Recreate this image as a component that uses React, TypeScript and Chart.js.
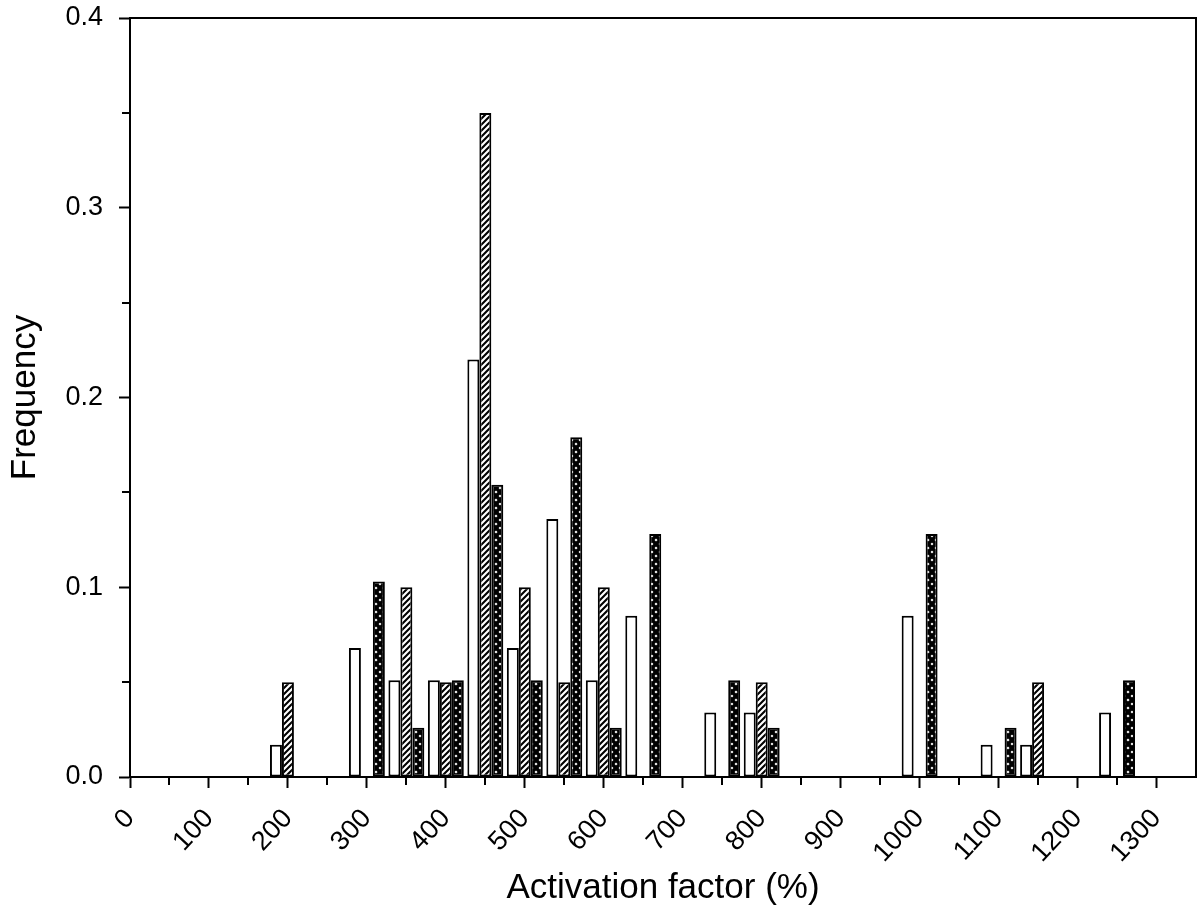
import { useEffect, useRef } from 'react';
import { Chart, registerables } from 'chart.js';

Chart.register(...registerables);

// Bin centres of the activation-factor histogram (%)
const bins = [200, 300, 350, 400, 450, 500, 550, 600, 650, 750, 800, 1000, 1100, 1150, 1250];

// Relative frequencies per bin (null = empty bin)
const seriesOpen = [0.017, 0.068, 0.051, 0.051, 0.220, 0.068, 0.136, 0.051, 0.085, 0.034, 0.034, 0.085, 0.017, 0.017, 0.034];
const seriesHatched = [0.05, null, 0.1, 0.05, 0.35, 0.1, 0.05, 0.1, null, null, 0.05, null, null, 0.05, null];
const seriesCross = [null, 0.103, 0.026, 0.051, 0.154, 0.051, 0.179, 0.026, 0.128, 0.051, 0.026, 0.128, 0.026, null, 0.051];

// Axis ticks
const xMajorTicks = [0, 100, 200, 300, 400, 500, 600, 700, 800, 900, 1000, 1100, 1200, 1300];
const xMinorTicks = [50, 150, 250, 350, 450, 550, 650, 750, 850, 950, 1050, 1150, 1250];
const yMajorTicks = [0, 0.1, 0.2, 0.3, 0.4];
const yMinorTicks = [0.05, 0.15, 0.25, 0.35];

const FONT = "'Liberation Sans', Arial, Helvetica, sans-serif";

function toPoints(values: (number | null)[]) {
  const pts: { x: number; y: number }[] = [];
  values.forEach((v, i) => {
    if (v !== null) pts.push({ x: bins[i], y: v });
  });
  return pts;
}

// White fill with "/" stripes
function diagonalPattern(ctx: CanvasRenderingContext2D) {
  const s = 6;
  const c = document.createElement('canvas');
  c.width = s;
  c.height = s;
  const g = c.getContext('2d')!;
  g.fillStyle = '#fff';
  g.fillRect(0, 0, s, s);
  g.strokeStyle = '#000';
  g.lineWidth = 2.1;
  g.beginPath();
  g.moveTo(-1, s + 1);
  g.lineTo(s + 1, -1);
  g.moveTo(-2, 2);
  g.lineTo(2, -2);
  g.moveTo(s - 2, s + 2);
  g.lineTo(s + 2, s - 2);
  g.stroke();
  return ctx.createPattern(c, 'repeat')!;
}

// Dense cross-hatch: black with small white diamonds
function crossPattern(ctx: CanvasRenderingContext2D) {
  const s = 8;
  const c = document.createElement('canvas');
  c.width = s;
  c.height = s;
  const g = c.getContext('2d')!;
  g.fillStyle = '#fff';
  g.fillRect(0, 0, s, s);
  g.strokeStyle = '#000';
  g.lineWidth = 3.6;
  g.beginPath();
  g.moveTo(-2, -2);
  g.lineTo(s + 2, s + 2);
  g.moveTo(-2, s + 2);
  g.lineTo(s + 2, -2);
  g.stroke();
  return ctx.createPattern(c, 'repeat')!;
}

// Box around the plot plus the short minor tick marks
const frameAndMinorTicks = {
  id: 'frameAndMinorTicks',
  afterDraw(chart: any) {
    const { ctx, chartArea, scales } = chart;
    const { left, top, right, bottom } = chartArea;
    ctx.save();
    ctx.strokeStyle = '#000';
    ctx.lineWidth = 2;
    ctx.strokeRect(left, top, right - left, bottom - top);
    ctx.beginPath();
    for (const v of xMinorTicks) {
      const px = Math.round(scales.x.getPixelForValue(v));
      ctx.moveTo(px, bottom);
      ctx.lineTo(px, bottom + 8);
    }
    for (const v of yMinorTicks) {
      const py = Math.round(scales.y.getPixelForValue(v));
      ctx.moveTo(left, py);
      ctx.lineTo(left - 8, py);
    }
    ctx.stroke();
    ctx.restore();
  },
};

export default function App() {
  const canvasRef = useRef<HTMLCanvasElement | null>(null);

  useEffect(() => {
    const canvas = canvasRef.current;
    if (!canvas) return;
    const ctx = canvas.getContext('2d')!;

    const common = {
      borderColor: '#000',
      borderWidth: 2,
      borderSkipped: false as const,
      categoryPercentage: 0.91,
      barPercentage: 1.0,
    };

    const chart = new Chart(ctx, {
      type: 'bar',
      data: {
        datasets: [
          { label: 'open', data: toPoints(seriesOpen), backgroundColor: '#fff', ...common },
          { label: 'hatched', data: toPoints(seriesHatched), backgroundColor: diagonalPattern(ctx), ...common },
          { label: 'cross', data: toPoints(seriesCross), backgroundColor: crossPattern(ctx), ...common },
        ],
      },
      options: {
        responsive: false,
        animation: false,
        events: [],
        layout: { padding: { top: 18, right: 2, left: 0, bottom: 0 } },
        plugins: {
          legend: { display: false },
          tooltip: { enabled: false },
        },
        scales: {
          x: {
            type: 'linear',
            offset: false,
            min: 0,
            max: 1350,
            afterBuildTicks: (scale: any) => {
              scale.ticks = xMajorTicks.map((v) => ({ value: v }));
            },
            afterFit: (scale: any) => {
              scale.height = 137;
              scale.paddingLeft = 0;
              scale.paddingRight = 0;
            },
            ticks: {
              includeBounds: false,
              minRotation: 47,
              maxRotation: 47,
              autoSkip: false,
              padding: 15,
              color: '#000',
              font: { family: FONT, size: 27 },
              callback: (v: any) => String(v),
            },
            grid: {
              display: true,
              drawOnChartArea: false,
              drawTicks: true,
              tickLength: 11,
              tickWidth: 2,
              tickColor: '#000',
              offset: false,
            },
            border: { display: true, color: '#000', width: 2 },
            title: {
              display: true,
              text: 'Activation factor (%)',
              color: '#000',
              font: { family: FONT, size: 35 },
              padding: { top: 0, bottom: 5 },
            },
          },
          y: {
            min: 0,
            max: 0.4,
            afterBuildTicks: (scale: any) => {
              scale.ticks = yMajorTicks.map((v) => ({ value: v }));
            },
            afterFit: (scale: any) => {
              scale.width = 130;
              scale.paddingTop = 0;
              scale.paddingBottom = 0;
            },
            ticks: {
              padding: 16,
              color: '#000',
              font: { family: FONT, size: 27 },
              callback: (v: any) => Number(v).toFixed(1),
            },
            grid: {
              display: true,
              drawOnChartArea: false,
              drawTicks: true,
              tickLength: 11,
              tickWidth: 2,
              tickColor: '#000',
            },
            border: { display: true, color: '#000', width: 2 },
            title: {
              display: true,
              text: 'Frequency',
              color: '#000',
              font: { family: FONT, size: 35 },
              padding: { top: 4.5, bottom: 0 },
            },
          },
        },
      },
      plugins: [frameAndMinorTicks],
    });

    return () => chart.destroy();
  }, []);

  return (
    <div style={{ position: 'absolute', left: 0, top: 0, width: 1198, height: 914, background: '#fff' }}>
      <canvas ref={canvasRef} width={1198} height={914} style={{ display: 'block', width: 1198, height: 914 }} />
    </div>
  );
}
